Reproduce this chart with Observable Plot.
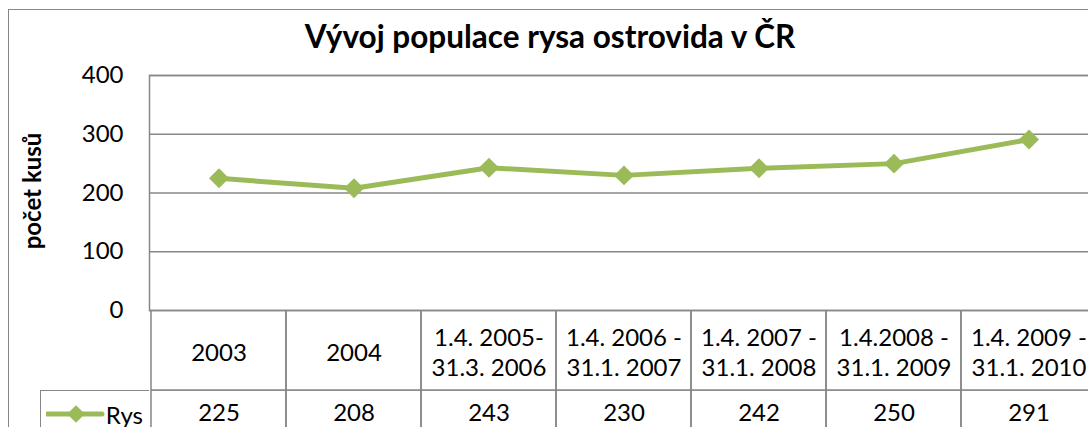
<!DOCTYPE html>
<html>
<head>
<meta charset="utf-8">
<script src="https://cdn.jsdelivr.net/npm/d3@7"></script>
<script src="https://cdn.jsdelivr.net/npm/@observablehq/plot@0.6"></script>
<style>
  html, body { margin: 0; padding: 0; background: #fff; overflow: hidden; width: 1088px; height: 427px; }
  body { position: relative; font-family: Lato, "Open Sans", sans-serif; }
  #frame { position: absolute; left: 8px; top: 9px; width: 1200px; height: 600px; border: 1.5px solid #878787; box-sizing: border-box; }
  #title { position: absolute; left: 8px; width: 1084px; top: 17px; text-align: center; font-weight: bold; font-size: 31.5px; color: #000; }
  #ylabel { position: absolute; left: 31px; top: 191px; transform: translate(-50%, -50%) rotate(-90deg); font-weight: bold; font-size: 24px; white-space: nowrap; }
  .layer { position: absolute; left: 0; width: 1110px; }
  .layer svg { max-width: none !important; display: block; }
  #legend { position: absolute; left: 40px; top: 390px; width: 109px; height: 60px; border-left: 1.5px solid #878787; border-top: 1.5px solid #878787; box-sizing: border-box; }
  #legend span { position: absolute; right: 6px; top: 9px; font-size: 24px; }
  #legend svg { position: absolute; left: 5px; top: 10px; }
</style>
</head>
<body>
<div id="frame"></div>
<div id="title">Vývoj populace rysa ostrovida v ČR</div>
<div id="ylabel">počet kusů</div>
<div id="head" class="layer" style="top:310px"></div>
<div id="vals" class="layer" style="top:390px"></div>
<div id="main" class="layer" style="top:0"></div>
<div id="legend"><svg width="60" height="26"></svg><span></span></div>
<script>
const categories = ["2003", "2004", "1.4. 2005-\n31.3. 2006", "1.4. 2006 -\n31.1. 2007", "1.4. 2007 -\n31.1. 2008", "1.4.2008 -\n31.1. 2009", "1.4. 2009 -\n31.1. 2010"];
const seriesName = "Rys";
const values = [225, 208, 243, 230, 242, 250, 291];
const yTicks = [0, 100, 200, 300, 400];

const green = "#9BBB59";
const gray = "#878787";
const font = "Lato, 'Open Sans', sans-serif";
const W = 1110, ML = 149, MR = 12;
const data = categories.map((c, i) => ({cat: c, value: values[i]}));
const xOpts = {type: "band", domain: categories, padding: 0, axis: null};

const main = Plot.plot({
  width: W, height: 325,
  marginLeft: ML, marginRight: MR, marginTop: 75, marginBottom: 15,
  style: {fontFamily: font, fontSize: "24px", color: "#000", background: "transparent"},
  x: xOpts,
  y: {domain: [0, 400], ticks: yTicks, label: null, tickSize: 0, tickPadding: 25, grid: false},
  marks: [
    Plot.gridY(yTicks, {stroke: gray, strokeOpacity: 1, strokeWidth: 1.5}),
    Plot.frame({stroke: gray, strokeWidth: 1.5}),
    Plot.axisY(yTicks, {tickSize: 0, tickPadding: 26, label: null, fontSize: 24}),
    Plot.line(data, {x: "cat", y: "value", stroke: green, strokeWidth: 5}),
    Plot.dot(data, {x: "cat", y: "value", symbol: "diamond2", r: 9, fill: green, stroke: "none"})
  ]
});
document.getElementById("main").appendChild(main);

const head = Plot.plot({
  width: W, height: 82,
  marginLeft: ML, marginRight: MR, marginTop: 0, marginBottom: 2,
  style: {fontFamily: font, fontSize: "24px", color: "#000", background: "transparent"},
  x: xOpts,
  marks: [
    Plot.cell(categories, {x: d => d, fill: "none", stroke: gray, strokeWidth: 1.5}),
    Plot.text(categories, {x: d => d, text: d => d, frameAnchor: "middle", dy: 1, fontSize: 24, lineHeight: 1.25, fill: "#000"})
  ]
});
document.getElementById("head").appendChild(head);

const vals = Plot.plot({
  width: W, height: 60,
  marginLeft: ML, marginRight: MR, marginTop: 0, marginBottom: 0,
  style: {fontFamily: font, fontSize: "24px", color: "#000", background: "transparent"},
  x: xOpts,
  y: {axis: null},
  marks: [
    Plot.cell(data, {x: "cat", fill: "none", stroke: gray, strokeWidth: 1.5}),
    Plot.text(data, {x: "cat", text: d => String(d.value), frameAnchor: "top", dy: 13, fontSize: 24, fill: "#000"})
  ]
});
document.getElementById("vals").appendChild(vals);

// legend key
document.querySelector("#legend span").textContent = seriesName;
const lsvg = d3.select("#legend svg");
lsvg.append("line").attr("x1", 1).attr("x2", 56).attr("y1", 13).attr("y2", 13).attr("stroke", green).attr("stroke-width", 5).attr("stroke-linecap", "round");
lsvg.append("path").attr("d", d3.symbol(d3.symbolDiamond2, 200)()).attr("transform", "translate(30,13)").attr("fill", green);
</script>
</body>
</html>
